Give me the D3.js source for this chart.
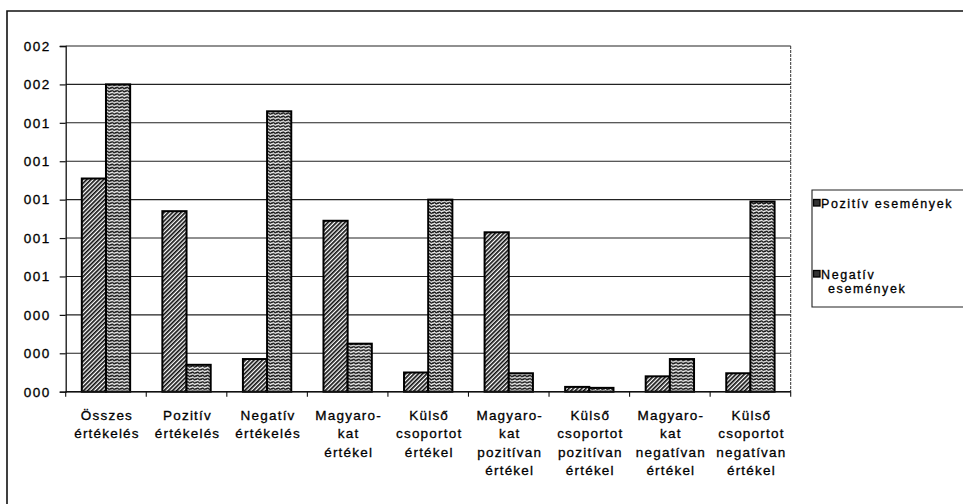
<!DOCTYPE html>
<html>
<head>
<meta charset="utf-8">
<script src="https://cdn.jsdelivr.net/npm/d3@7"></script>
<style>
  html, body { margin: 0; padding: 0; background: #fff; }
  svg text { font-family: "Liberation Sans", Arial, sans-serif; fill: #000; stroke: #000; stroke-width: 0.3px; }
</style>
</head>
<body>
<svg id="chart" width="963" height="504"></svg>
<script>
// Category labels (each entry split into its printed lines)
const categories = [
  ["Összes", "értékelés"],
  ["Pozitív", "értékelés"],
  ["Negatív", "értékelés"],
  ["Magyaro-", "kat", "értékel"],
  ["Külső", "csoportot", "értékel"],
  ["Magyaro-", "kat", "pozitívan", "értékel"],
  ["Külső", "csoportot", "pozitívan", "értékel"],
  ["Magyaro-", "kat", "negatívan", "értékel"],
  ["Külső", "csoportot", "negatívan", "értékel"]
];
const seriesNames = ["Pozitív események", "Negatív események"];
const pozitivValues = [0.0111, 0.0094, 0.0017, 0.0089, 0.0010, 0.0083, 0.00025, 0.0008, 0.00096];
const negativValues = [0.0160, 0.0014, 0.0146, 0.0025, 0.0100, 0.00096, 0.0002, 0.0017, 0.0099];
const yTickValues = [0, 0.002, 0.004, 0.006, 0.008, 0.010, 0.012, 0.014, 0.016, 0.018];
const yTickLabels = ["000", "000", "000", "001", "001", "001", "001", "001", "002", "002"];

const svg = d3.select("#chart");
const plot = { left: 65.7, right: 790.7, top: 46, bottom: 391.7 };

// Fill patterns: diagonal hatch for positive, wavy lines for negative
const defs = svg.append("defs");
const hatch = defs.append("pattern")
  .attr("id", "hatch").attr("patternUnits", "userSpaceOnUse")
  .attr("width", 3).attr("height", 3)
  .attr("patternTransform", "rotate(45)");
hatch.append("rect").attr("width", 3).attr("height", 3).attr("fill", "#fff");
hatch.append("rect").attr("width", 1.7).attr("height", 3).attr("fill", "#111");

const wave = defs.append("pattern")
  .attr("id", "wave").attr("patternUnits", "userSpaceOnUse")
  .attr("width", 5).attr("height", 3.2);
wave.append("rect").attr("width", 5).attr("height", 3.2).attr("fill", "#fff");
wave.append("path")
  .attr("d", "M0,2.2 Q1.25,0 2.5,1.6 T5,1")
  .attr("fill", "none").attr("stroke", "#111").attr("stroke-width", 1.5);

// Outer chart frame
svg.append("path")
  .attr("d", "M7,504 L7,11 L963,11")
  .attr("fill", "none").attr("stroke", "#111").attr("stroke-width", 1.6);

const x0 = d3.scaleBand()
  .domain(d3.range(categories.length))
  .range([plot.left, plot.right])
  .paddingInner(0).paddingOuter(0);
const x1 = d3.scaleBand()
  .domain([0, 1])
  .range([x0.bandwidth() * 0.2, x0.bandwidth() * 0.8])
  .padding(0);
const y = d3.scaleLinear().domain([0, 0.018]).range([plot.bottom, plot.top]);

// Horizontal gridlines
svg.append("g").selectAll("line").data(yTickValues).join("line")
  .attr("x1", plot.left).attr("x2", plot.right)
  .attr("y1", d => y(d)).attr("y2", d => y(d))
  .attr("stroke", "#222").attr("stroke-width", 1.1);

// Plot frame right edge
svg.append("line")
  .attr("x1", plot.right).attr("x2", plot.right)
  .attr("y1", plot.top).attr("y2", plot.bottom)
  .attr("stroke", "#333").attr("stroke-width", 1)
  .attr("stroke-dasharray", "3,1");

// Y axis
const yAxis = d3.axisLeft(y)
  .tickValues(yTickValues)
  .tickSize(6)
  .tickFormat((d, i) => yTickLabels[i]);
const gy = svg.append("g").attr("transform", `translate(${plot.left},0)`).call(yAxis);
gy.select(".domain").attr("stroke", "#111").attr("stroke-width", 1.3);
gy.selectAll(".tick line").attr("stroke", "#111").attr("stroke-width", 1.2);
gy.selectAll(".tick text")
  .attr("x", -15)
  .style("font-size", "13.5px").style("letter-spacing", "1.5px")
  .attr("fill", "#000");

// Bars
const rows = categories.map((c, i) => ({ i, vals: [pozitivValues[i], negativValues[i]] }));
const fills = ["url(#hatch)", "url(#wave)"];
svg.append("g").selectAll("g").data(rows).join("g")
  .attr("transform", d => `translate(${x0(d.i)},0)`)
  .selectAll("rect").data(d => d.vals.map((v, k) => ({ v, k })))
  .join("rect")
  .attr("x", d => x1(d.k))
  .attr("width", x1.bandwidth())
  .attr("y", d => y(d.v))
  .attr("height", d => y(0) - y(d.v))
  .attr("fill", d => fills[d.k])
  .attr("stroke", "#000").attr("stroke-width", 2);

// X axis baseline and category separators
svg.append("line")
  .attr("x1", plot.left).attr("x2", plot.right)
  .attr("y1", y(0)).attr("y2", y(0))
  .attr("stroke", "#111").attr("stroke-width", 1.4);
svg.append("g").selectAll("line").data(d3.range(categories.length + 1)).join("line")
  .attr("x1", d => plot.left + d * x0.step()).attr("x2", d => plot.left + d * x0.step())
  .attr("y1", y(0)).attr("y2", y(0) + 5)
  .attr("stroke", "#111").attr("stroke-width", 1.1);

// Category labels
const labels = svg.append("g").selectAll("text").data(categories).join("text")
  .attr("text-anchor", "middle")
  .style("font-size", "13.5px").style("letter-spacing", "1.2px");
labels.each(function (lines, i) {
  const t = d3.select(this);
  lines.forEach((ln, j) => {
    t.append("tspan")
      .attr("x", x0(i) + x0.bandwidth() / 2 + 1)
      .attr("y", 420 + j * 18.3)
      .text(ln);
  });
});

// Legend
const lg = svg.append("g");
lg.append("path")
  .attr("d", "M963,190 L812,190 L812,307 L963,307")
  .attr("fill", "#fff").attr("stroke", "#222").attr("stroke-width", 1.1);
const legendRows = [
  { lines: ["Pozitív események"], y: 208, fill: fills[0] },
  { lines: ["Negatív", "események"], y: 279, fill: fills[1] }
];
legendRows.forEach(r => {
  lg.append("rect")
    .attr("x", 813.5).attr("y", r.y - 8.5)
    .attr("width", 6.5).attr("height", 6.5)
    .attr("fill", "#333").attr("stroke", "#000").attr("stroke-width", 1.3);
  const t = lg.append("text")
    .style("font-size", "12.5px").style("letter-spacing", "1.6px");
  r.lines.forEach((ln, j) => {
    t.append("tspan")
      .attr("x", j === 0 ? 821 : 828)
      .attr("y", r.y + j * 14)
      .text(ln);
  });
});
</script>
</body>
</html>
